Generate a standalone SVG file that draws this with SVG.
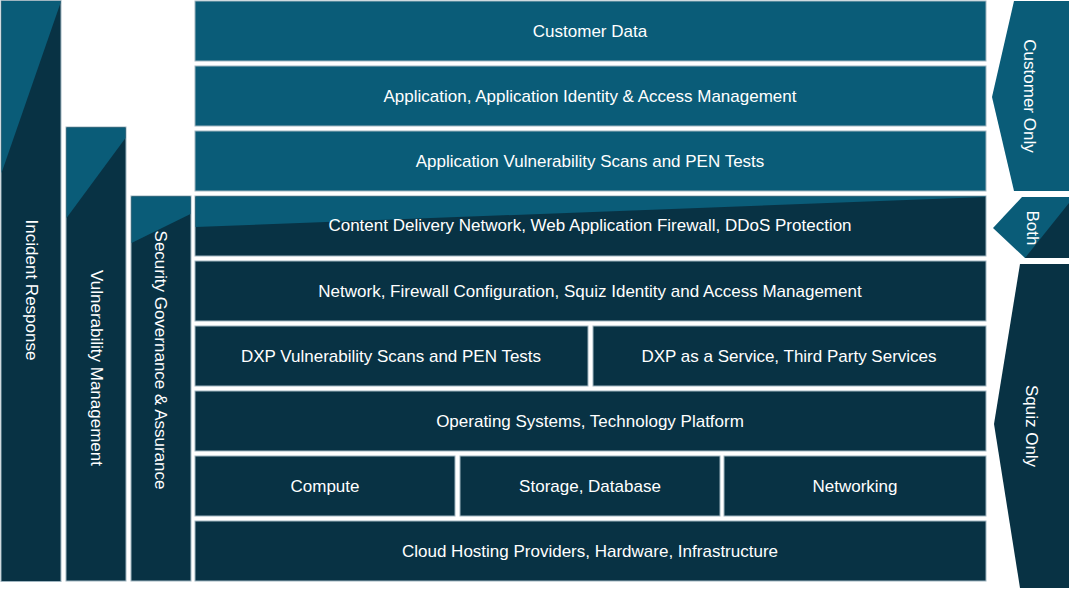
<svg xmlns="http://www.w3.org/2000/svg" width="1071" height="590" viewBox="0 0 1071 590">
<style>
.l{fill:#0a5c78}.d{fill:#083244}
.b{stroke:#9fb5c0;stroke-width:1}
text{fill:#fff;font-family:"Liberation Sans",Arial,sans-serif;font-size:17px;text-anchor:middle;dominant-baseline:central}
</style>
<rect width="1071" height="590" fill="#fff"/>
<g id="incident-response"><rect class="d b" x="1" y="0.5" width="60" height="581"/><polygon class="l" points="1.5,1 60.5,1 60.5,3 1.5,173"/><text transform="translate(31,290) rotate(90)">Incident Response</text></g>
<g id="vulnerability-management"><rect class="d b" x="66" y="127" width="60" height="454"/><polygon class="l" points="66.5,127.5 125.5,127.5 125.5,138 66.5,218"/><text transform="translate(96,368) rotate(90)">Vulnerability Management</text></g>
<g id="security-governance"><rect class="d b" x="131" y="196" width="60" height="385"/><polygon class="l" points="131.5,196.5 190.5,196.5 190.5,214 131.5,243"/><text transform="translate(160,360) rotate(90)">Security Governance &amp; Assurance</text></g>
<g id="customer-data"><rect class="l b" x="195" y="1" width="791" height="60"/><text x="590" y="31">Customer Data</text></g>
<g id="app-iam"><rect class="l b" x="195" y="66" width="791" height="60"/><text x="590" y="96">Application, Application Identity &amp; Access Management</text></g>
<g id="app-scans"><rect class="l b" x="195" y="131" width="791" height="60"/><text x="590" y="161">Application Vulnerability Scans and PEN Tests</text></g>
<g id="cdn"><rect class="d b" x="195" y="196" width="791" height="60"/><polygon class="l" points="195.5,196.5 985.5,196.5 985.5,197 195.5,227"/><text x="590" y="225">Content Delivery Network, Web Application Firewall, DDoS Protection</text></g>
<g id="network"><rect class="d b" x="195" y="261" width="791" height="60"/><text x="590" y="291">Network, Firewall Configuration, Squiz Identity and Access Management</text></g>
<g id="dxp-scans"><rect class="d b" x="195" y="326" width="393" height="60"/><text x="391" y="356">DXP Vulnerability Scans and PEN Tests</text></g>
<g id="dxp-service"><rect class="d b" x="593" y="326" width="393" height="60"/><text x="789" y="356">DXP as a Service, Third Party Services</text></g>
<g id="os"><rect class="d b" x="195" y="391" width="791" height="60"/><text x="590" y="421">Operating Systems, Technology Platform</text></g>
<g id="compute"><rect class="d b" x="195" y="456" width="260" height="60"/><text x="325" y="486">Compute</text></g>
<g id="storage"><rect class="d b" x="460" y="456" width="260" height="60"/><text x="590" y="486">Storage, Database</text></g>
<g id="networking"><rect class="d b" x="724" y="456" width="262" height="60"/><text x="855" y="486">Networking</text></g>
<g id="cloud"><rect class="d b" x="195" y="521" width="791" height="60"/><text x="590" y="551">Cloud Hosting Providers, Hardware, Infrastructure</text></g>
<g id="customer-only"><polygon class="l" points="1014,1 1069,1 1069,191 1014,191 992,97"/><text transform="translate(1029,96) rotate(90)">Customer Only</text></g>
<g id="both"><polygon class="l" points="1022,197 1069,197 1069,258 1025,258 993,228"/><polygon class="d" points="1069,203 1069,258 1025,258"/><text transform="translate(1032,228) rotate(90)">Both</text></g>
<g id="squiz-only"><polygon class="d" points="1020,264 1069,264 1069,588 1020,588 994,424"/><text transform="translate(1031,426) rotate(90)">Squiz Only</text></g>
<g id="connectors"></g>
</svg>
